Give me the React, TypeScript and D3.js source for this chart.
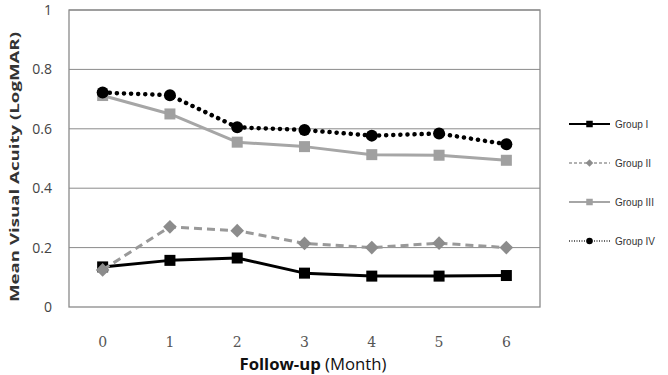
import React from "react";
import * as d3 from "d3";

const months = [0, 1, 2, 3, 4, 5, 6];
const groupI = [0.135, 0.157, 0.165, 0.114, 0.104, 0.104, 0.106];
const groupII = [0.125, 0.27, 0.257, 0.214, 0.2, 0.215, 0.2];
const groupIII = [0.712, 0.65, 0.555, 0.54, 0.513, 0.511, 0.494];
const groupIV = [0.722, 0.713, 0.605, 0.596, 0.577, 0.584, 0.548];
const yTicks = [0, 0.2, 0.4, 0.6, 0.8, 1];

type Series = {
  name: string;
  values: number[];
  color: string;
  marker: "square" | "diamond" | "circle";
  markerColor: string;
  dash?: string;
  cap?: "round" | "butt";
  legendDash?: string;
};

const series: Series[] = [
  { name: "Group I", values: groupI, color: "#000", marker: "square", markerColor: "#000" },
  { name: "Group II", values: groupII, color: "#999", marker: "diamond", markerColor: "#8c8c8c", dash: "8,5", legendDash: "3,2" },
  { name: "Group III", values: groupIII, color: "#a6a6a6", marker: "square", markerColor: "#a0a0a0" },
  { name: "Group IV", values: groupIV, color: "#000", marker: "circle", markerColor: "#000", dash: "0.1,7", cap: "round", legendDash: "1,1.5" },
];

function Marker({ kind, x, y, color, size }: { kind: string; x: number; y: number; color: string; size: number }) {
  if (kind === "square") {
    return <rect x={x - size / 2} y={y - size / 2} width={size} height={size} fill={color} />;
  }
  if (kind === "diamond") {
    const s = size * 0.62;
    return <path d={`M${x},${y - s}L${x + s},${y}L${x},${y + s}L${x - s},${y}Z`} fill={color} />;
  }
  return <circle cx={x} cy={y} r={size / 2} fill={color} />;
}

export default function App() {
  const width = 668;
  const height = 375;
  const left = 69, right = 540, top = 10, bottom = 307;

  const x = d3.scaleBand<number>().domain(months).range([left, right]);
  const cx = (m: number) => (x(m) ?? 0) + x.bandwidth() / 2;
  const y = d3.scaleLinear().domain([0, 1]).range([bottom, top]);

  const line = (vals: number[]) =>
    d3.line<number>().x((_, i) => cx(months[i])).y(d => y(d))(vals) ?? "";

  return (
    <svg width={width} height={height} style={{ position: "absolute", left: 0, top: 0, background: "#fff" }}>
      {yTicks.map(t => (
        <g key={t}>
          {t > 0 && <line x1={left} x2={right} y1={y(t)} y2={y(t)} stroke="#8a8a8a" strokeWidth={1} />}
          <text x={52} y={y(t)} dy="0.36em" textAnchor="end" fontFamily="Open Sans, DejaVu Sans, sans-serif" fontSize={14} fill="#444">
            {t === 0 || t === 1 ? t : t.toFixed(1)}
          </text>
        </g>
      ))}
      <rect x={left} y={top} width={right - left} height={bottom - top} fill="none" stroke="#8a8a8a" strokeWidth={1.3} />

      {months.map(m => (
        <text key={m} x={cx(m)} y={342} dy="0.35em" textAnchor="middle" fontFamily="DejaVu Serif, serif" fontSize={14} fill="#555">
          {m}
        </text>
      ))}

      <text
        transform={`translate(14,167) rotate(-90)`}
        textAnchor="middle"
        dy="0.35em"
        fontFamily="Open Sans, DejaVu Sans, sans-serif"
        fontWeight="bold"
        fontSize={13}
        fill="#333"
        textLength={270}
        lengthAdjust="spacingAndGlyphs"
      >
        Mean Visual Acuity  (LogMAR)
      </text>
      <text
        x={313}
        y={370}
        textAnchor="middle"
        fontFamily="Open Sans, Liberation Sans, sans-serif"
        fontSize={16}
        fill="#111"
        textLength={147}
        lengthAdjust="spacingAndGlyphs"
      >
        <tspan fontWeight="bold">Follow-up</tspan> (Month)
      </text>

      {series.map(s => (
        <g key={s.name}>
          <path
            d={line(s.values)}
            fill="none"
            stroke={s.color}
            strokeWidth={s.marker === "circle" ? 4.5 : 3}
            strokeDasharray={s.dash}
            strokeLinecap={s.cap ?? "butt"}
            strokeLinejoin="round"
          />
          {s.values.map((v, i) => (
            <Marker key={i} kind={s.marker} x={cx(months[i])} y={y(v)} color={s.markerColor} size={s.marker === "circle" ? 12 : 11} />
          ))}
        </g>
      ))}

      {series.map((s, i) => {
        const ly = 124 + i * 39;
        return (
          <g key={s.name}>
            <line x1={569} x2={610} y1={ly} y2={ly} stroke={s.marker === "circle" ? "#333" : s.color} strokeWidth={s.dash ? 1.3 : 2.2} strokeDasharray={s.legendDash} />
            <Marker kind={s.marker} x={589.5} y={ly} color={s.markerColor} size={s.marker === "diamond" ? 6 : 6.5} />
            <text x={615} y={ly} dy="0.36em" fontFamily="Liberation Sans, Arial, sans-serif" fontSize={10} fill="#333">
              {s.name}
            </text>
          </g>
        );
      })}
    </svg>
  );
}
